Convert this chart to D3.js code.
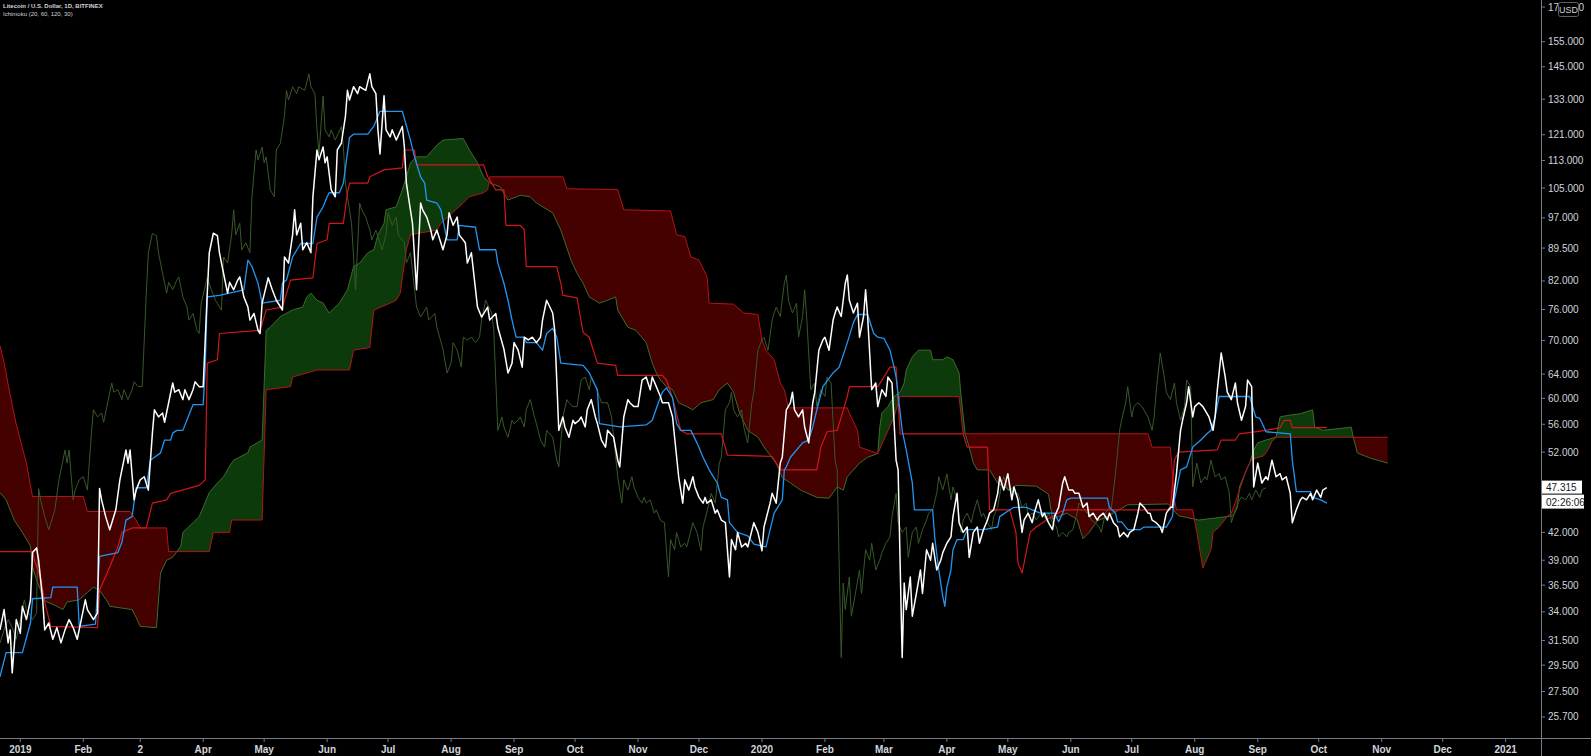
<!DOCTYPE html>
<html>
<head>
<meta charset="utf-8">
<title>Litecoin / U.S. Dollar - Ichimoku</title>
<script src="https://d3js.org/d3.v7.min.js"></script>
<style>
  body { margin: 0; background: #000; }
  svg { display: block; font-family: "Liberation Sans", Arial, sans-serif; }
</style>
</head>
<body>
<svg id="chart" width="1591" height="756"></svg>
<script>
// all series: [day offset from 2019-01-01, price]
const closeData = [
  [-10,32.4],[-8,34.2],[-6,31.3],[-5,32.4],[-4,28.9],[-2,33.3],[0,32.1],[1,34.5],[3,33.3],[5,35.1],[6,39.8],[8,40.3],[9,39.0],[11,35.1],[12,32.4],[14,33.0],[16,31.6],[18,32.6],[20,31.3],[22,32.4],[24,33.3],[26,32.6],[28,31.6],[30,33.3],[32,35.1],[33,34.2],[36,33.3],[38,33.9],[39,47.2],[40,45.8],[42,43.8],[44,42.3],[47,44.6],[49,48.3],[52,52.3],[53,50.5],[54,52.3],[56,45.8],[57,47.0],[59,48.3],[61,48.7],[63,47.0],[65,54.7],[66,58.2],[68,57.1],[70,57.7],[71,56.3],[73,59.3],[75,62.5],[76,61.0],[78,61.4],[80,59.8],[81,61.4],[83,59.8],[85,61.4],[86,62.7],[88,61.9],[90,61.9],[92,79.4],[93,88.4],[95,93.1],[97,92.5],[98,88.4],[100,83.7],[102,79.4],[103,81.7],[105,80.1],[107,82.2],[108,82.9],[110,78.6],[112,76.5],[113,73.9],[115,75.2],[117,71.9],
  [118,71.3],[119,77.3],[122,82.7],[124,80.1],[126,77.9],[129,75.9],[130,87.4],[132,86.0],[134,92.7],[135,99.1],[136,92.7],[138,95.6],[139,89.1],[141,90.8],[143,88.4],[144,102.6],[146,116.2],[147,113.2],[149,117.1],[150,112.3],[151,114.1],[153,104.5],[155,102.6],[156,116.2],[158,118.3],[160,127.1],[161,136.2],[162,132.7],[164,137.5],[166,135.0],[167,137.5],[170,136.2],[172,142.3],[173,137.5],[175,135.0],[176,122.6],[177,115.0],[179,134.2],[180,122.6],[182,120.3],[183,122.6],[185,119.3],[188,123.7],[189,117.2],[190,106.4],[191,102.6],[193,95.6],[195,80.1],[197,100.9],[198,99.1],[200,97.2],[202,93.9],[203,91.5],[205,93.9],[208,89.1],[210,92.7],[211,98.3],[213,95.1],[215,97.2],[216,92.7],[219,90.8],[220,86.0],[222,88.4],[225,76.5],[227,74.5],[230,76.5],[231,73.9],[234,75.2],[235,72.5],[238,68.4],[240,64.2],
  [242,65.9],[243,69.6],[245,68.2],[247,65.2],[248,70.6],[250,70.1],[252,70.6],[254,69.6],[256,70.6],[257,73.9],[259,77.9],[262,75.3],[263,71.9],[265,55.1],[267,57.1],[268,55.6],[270,54.1],[272,56.6],[273,56.1],[275,56.6],[276,57.1],[278,55.6],[279,58.2],[281,59.8],[283,57.1],[284,56.1],[286,53.7],[288,52.7],[289,55.1],[292,54.1],[294,50.9],[295,50.0],[297,57.1],[299,59.8],[300,59.3],[302,58.7],[304,58.7],[306,63.0],[308,63.5],[310,61.4],[311,63.5],[313,61.9],[315,60.3],[316,59.3],[319,59.3],[321,57.1],[322,54.1],[324,48.7],[326,45.4],[327,48.3],[329,47.0],[331,48.7],[332,47.4],[334,46.1],[336,45.4],[337,46.1],[338,45.4],[340,45.8],[342,44.2],[343,44.6],[345,43.4],[347,43.1],[349,37.3],[350,41.2],[352,40.1],[353,42.0],[355,40.4],[357,40.8],[358,40.4],[361,43.1],[363,42.0],
  [365,40.0],[366,42.6],[369,45.4],[370,46.6],[372,45.4],[374,50.5],[375,51.3],[377,58.2],[379,59.3],[380,61.0],[381,58.2],[383,57.1],[385,58.2],[386,55.6],[388,53.3],[390,59.3],[391,61.0],[393,68.2],[395,70.1],[396,70.6],[398,68.2],[400,73.9],[401,75.3],[402,76.5],[404,74.6],[406,81.5],[407,83.3],[408,77.9],[410,75.3],[412,77.3],[413,70.6],[415,74.6],[416,80.1],[417,74.6],[419,61.4],[421,62.5],[422,58.7],[424,61.4],[426,60.3],[427,63.5],[429,62.5],[431,50.9],[432,49.6],[434,30.1],[435,36.7],[436,34.2],[438,37.3],[439,33.6],[441,35.7],[443,38.0],[444,35.7],[446,40.1],[448,39.0],[449,40.8],[451,38.0],[453,39.0],[454,39.8],[456,40.8],[458,41.5],[459,43.8],[461,46.6],[462,43.1],[464,42.0],[466,42.6],[467,39.3],[469,42.0],[471,42.6],[472,40.8],[474,42.3],[476,43.4],[477,44.2],[479,44.6],[481,46.6],[482,48.7],[484,47.0],[486,49.1],
  [487,47.4],[488,45.8],[489,47.4],[491,45.8],[493,42.0],[494,43.4],[496,44.2],[498,43.1],[499,44.2],[501,45.8],[503,43.8],[504,44.2],[506,43.1],[508,42.3],[509,43.8],[511,44.9],[513,47.9],[514,48.7],[516,47.0],[518,47.0],[519,46.6],[521,46.6],[523,44.9],[525,45.4],[526,43.8],[528,44.2],[530,43.4],[531,43.8],[533,44.2],[535,43.4],[536,44.2],[538,43.1],[540,42.6],[541,41.5],[543,42.0],[545,41.5],[546,42.0],[548,42.3],[550,44.2],[551,45.4],[553,44.9],[555,44.2],[556,44.2],[557,43.4],[559,43.1],[561,42.6],[562,42.0],[564,44.2],[566,44.9],[567,44.9],[569,49.1],[571,55.1],[572,56.6],[574,59.3],[575,61.9],[577,57.1],[578,58.7],[580,59.3],
  [582,58.7],[585,57.1],[587,55.1],[588,57.1],[589,61.0],[591,67.7],[593,63.5],[594,61.0],[596,59.8],[598,62.5],[599,59.3],[601,56.6],[603,58.7],[604,63.0],[606,61.9],[607,47.4],[609,50.5],[611,47.9],[613,48.7],[614,48.3],[616,50.9],[618,48.7],[620,49.1],[621,48.3],[623,48.7],[625,46.6],[626,43.1],[628,44.6],[630,45.8],[631,46.1],[633,45.8],[635,46.6],[636,45.8],[638,47.0],[640,46.1],[641,47.0],[643,47.3]
];

const conversionLine = [
  [-10,28.6],[-7,30.5],[1,30.5],[5,33.0],[6,35.2],[15,35.3],[16,36.3],[28,36.3],[29,32.7],[37,32.9],[39,39.4],[48,39.8],[50,40.9],[52,43.4],[55,43.8],[57,47.3],[62,47.3],[64,50.9],[69,51.9],[71,53.7],[74,53.7],[75,54.7],[77,55.1],[80,55.1],[84,58.2],[85,59.0],[90,59.0],[91,65.2],[92,78.6],[98,78.9],[110,80.1],[112,86.7],[114,85.2],[117,81.5],[119,77.3],[128,77.9],[129,81.5],[131,82.2],[134,87.4],[138,90.6],[144,90.6],[146,97.2],[149,99.9],[151,102.6],[152,103.7],[157,103.7],[159,106.4],[162,120.1],[164,121.2],[171,121.2],[174,123.8],[176,127.1],[177,128.8],[188,128.8],[192,119.3],[194,114.1],[197,108.2],[199,106.4],[200,101.7],[205,100.9],[207,99.1],[210,91.5],[215,91.5],[216,95.1],[224,94.6],[226,89.1],[234,89.1],[235,86.0],[238,81.5],[240,77.9],[242,73.9],[244,70.6],[248,70.6],[249,69.6],[254,69.6],[257,68.2],[259,71.3],[262,72.3],[264,70.6],[266,65.9],[277,65.5],[280,64.2],[284,61.4],[285,56.1],[295,55.6],[308,55.9],[311,56.6],[314,59.3],[316,61.0],[318,61.7],[321,60.1],[323,56.1],[325,55.1],[330,55.1],[333,53.3],[336,51.3],[339,49.6],[343,47.9],[345,46.1],[348,45.8],[349,43.1],[353,42.0],[358,41.6],[361,40.7],[367,40.4],[369,42.3],[371,44.2],[375,45.8],[376,49.6],[377,50.0],[379,51.3],[385,53.3],[388,53.7],[390,55.6],[392,58.2],[395,61.9],[400,64.2],[403,65.2],[407,69.6],[410,73.4],[412,75.0],[417,75.0],[420,71.3],[422,70.6],[425,70.4],[428,68.2],[430,65.2],[431,63.5],[434,55.1],[436,52.3],[439,47.9],[440,44.6],[449,44.6],[450,41.5],[452,38.0],[454,35.4],[455,34.5],[456,36.3],[458,38.0],[459,40.1],[461,41.2],[464,41.2],[466,42.3],[474,42.3],[481,42.6],[482,43.8],[487,44.6],[489,44.9],[495,44.9],[498,44.6],[502,44.2],[509,44.2],[511,43.2],[513,44.2],[515,45.8],[517,46.0],[535,46.0],[536,44.9],[539,44.2],[540,43.2],[542,43.2],[545,42.3],[551,42.3],[553,42.6],[564,42.6],[567,43.8],[568,45.8],[571,49.6],[574,50.0],[577,52.7],[581,53.7],[584,54.6],[586,55.1],[588,57.1],[590,60.3],[605,60.3],[608,57.1],[610,56.9],[612,55.6],[613,54.9],[625,54.6],[626,50.9],[628,46.8],[635,46.8],[636,46.1],[640,45.8],[643,45.4]
];

const baseLine = [
  [-10,39.9],[6,39.9],[7,39.0],[10,37.2],[12,34.9],[15,32.7],[38,32.6],[39,36.0],[44,38.3],[48,40.4],[50,42.0],[55,42.5],[62,42.5],[65,45.4],[72,45.8],[74,46.6],[88,47.6],[91,48.3],[92,65.9],[97,66.5],[98,71.3],[118,71.9],[121,75.9],[129,76.5],[133,82.2],[144,82.7],[146,90.6],[151,91.5],[152,95.6],[159,95.6],[161,103.7],[162,106.4],[171,106.4],[172,108.2],[179,110.2],[188,110.8],[189,116.2],[194,116.2],[195,111.7],[228,111.7],[230,108.2],[234,104.5],[238,104.5],[239,95.1],[246,95.1],[248,94.0],[249,85.2],[264,85.2],[266,81.5],[267,78.9],[274,78.4],[275,75.9],[277,71.5],[280,70.6],[284,65.9],[293,65.5],[294,63.8],[316,63.8],[318,63.0],[321,60.1],[325,55.1],[328,54.6],[345,54.6],[348,51.6],[370,51.4],[374,49.6],[392,49.6],[394,52.7],[397,54.9],[402,55.1],[405,58.1],[407,60.3],[408,61.9],[422,61.9],[425,63.5],[428,65.2],[431,65.2],[433,54.6],[464,54.6],[466,52.7],[476,52.7],[477,44.6],[487,44.6],[490,42.0],[491,38.7],[493,37.7],[494,38.7],[497,42.0],[500,42.6],[505,43.4],[512,44.4],[515,44.6],[566,44.6],[568,50.9],[570,52.0],[589,52.3],[591,53.7],[598,53.7],[600,54.6],[613,55.1],[620,55.5],[622,56.6],[625,56.6],[626,55.5],[643,55.5]
];

const leadingSpanA = [
  [-10,46.7],[-7,45.8],[-3,43.4],[1,42.0],[5,40.5],[6,38.3],[8,37.0],[10,36.0],[11,35.1],[18,34.5],[21,34.2],[23,34.9],[29,35.1],[33,35.8],[36,36.3],[39,36.0],[43,34.9],[44,34.5],[55,34.2],[57,33.5],[59,32.7],[67,32.6],[69,37.7],[72,39.0],[75,39.3],[79,40.5],[80,42.0],[85,43.1],[88,43.8],[90,44.9],[93,46.7],[97,47.9],[100,48.7],[103,50.1],[105,50.9],[112,51.9],[113,52.7],[119,53.7],[121,71.9],[123,72.5],[128,74.6],[134,75.9],[139,76.5],[141,78.6],[143,79.4],[146,77.9],[149,77.3],[152,75.3],[157,77.3],[161,80.1],[164,85.2],[167,86.0],[171,88.4],[174,89.1],[176,92.7],[179,95.6],[180,99.1],[185,99.9],[188,104.5],[190,108.2],[192,112.3],[195,114.1],[200,114.1],[205,117.7],[208,119.3],[218,119.8],[221,116.2],[225,112.3],[228,108.2],[231,106.4],[236,105.4],[240,101.7],[246,103.0],[251,102.6],[254,100.9],[262,98.3],[266,93.9],[271,86.7],[274,83.7],[277,81.5],[280,78.6],[285,77.3],[289,77.9],[293,78.6],[294,75.9],[299,72.5],[303,71.9],[308,69.6],[311,65.9],[313,64.2],[315,63.0],[318,61.9],[321,61.4],[324,59.3],[328,58.7],[331,58.2],[335,59.3],[341,59.8],[344,61.4],[348,62.5],[351,61.0],[354,57.7],[358,55.1],[363,54.1],[367,52.3],[372,50.5],[375,48.6],[379,47.9],[384,47.0],[392,46.1],[398,46.0],[402,47.4],[405,47.0],[407,48.7],[413,50.5],[417,51.3],[422,51.8],[423,55.6],[424,57.7],[427,58.7],[430,60.3],[433,61.0],[435,62.5],[436,64.7],[439,67.0],[442,68.2],[448,68.2],[449,66.5],[454,66.5],[456,67.0],[459,66.5],[462,64.2],[463,60.3],[465,54.6],[467,52.7],[469,50.5],[471,49.6],[477,49.6],[481,47.9],[487,47.0],[490,47.6],[500,47.5],[506,46.5],[508,43.5],[515,44.2],[520,43.5],[523,41.3],[526,42.0],[530,43.3],[535,43.8],[545,45.2],[565,45.3],[570,43.9],[580,43.4],[597,43.9],[599,44.9],[600,47.4],[603,49.3],[605,50.5],[607,52.3],[609,53.3],[613,53.7],[618,54.1],[620,57.1],[623,57.3],[630,57.6],[636,58.2],[637,55.6],[641,55.1],[653,55.5],[655,55.6],[656,54.1],[658,51.9],[664,51.2],[673,50.5]
];

const leadingSpanB = [
  [-10,69.0],[-8,66.0],[-5,60.5],[-2,56.0],[1,52.6],[3,50.5],[6,46.2],[31,46.2],[33,44.4],[54,44.4],[57,43.4],[59,42.5],[72,42.5],[73,39.9],[93,39.9],[95,42.0],[103,42.0],[104,43.4],[119,43.4],[121,61.4],[133,61.9],[134,63.5],[146,64.7],[162,64.7],[164,68.2],[172,68.7],[174,75.9],[182,77.3],[185,77.9],[187,79.4],[188,82.7],[190,89.1],[192,92.7],[205,93.9],[207,95.6],[218,100.9],[221,102.6],[228,103.7],[230,104.5],[231,108.2],[267,108.2],[269,104.8],[294,104.6],[297,99.1],[320,98.8],[323,92.7],[327,92.3],[330,87.4],[334,86.7],[338,82.9],[339,77.3],[351,77.1],[356,75.3],[363,75.0],[365,70.1],[367,68.2],[371,66.5],[374,62.5],[376,61.4],[378,58.5],[407,58.5],[408,57.7],[412,55.1],[413,52.7],[422,51.8],[425,53.7],[430,57.1],[433,60.3],[462,60.3],[464,54.6],[555,54.6],[557,52.7],[566,52.7],[568,45.8],[569,44.6],[577,44.6],[579,42.0],[582,38.2],[586,40.1],[587,42.0],[590,42.6],[594,43.8],[596,44.2],[598,45.5],[600,47.0],[602,48.5],[604,50.0],[606,51.0],[612,51.5],[614,52.3],[616,53.5],[618,54.1],[673,54.1]
];

const laggingShift = 30; // lagging span = close drawn 30 days back

const monthTicks = [
  ["2019-01-01","2019"],["2019-02-01","Feb"],["2019-03-01","2"],["2019-04-01","Apr"],["2019-05-01","May"],["2019-06-01","Jun"],
  ["2019-07-01","Jul"],["2019-08-01","Aug"],["2019-09-01","Sep"],["2019-10-01","Oct"],["2019-11-01","Nov"],["2019-12-01","Dec"],
  ["2020-01-01","2020"],["2020-02-01","Feb"],["2020-03-01","Mar"],["2020-04-01","Apr"],["2020-05-01","May"],["2020-06-01","Jun"],
  ["2020-07-01","Jul"],["2020-08-01","Aug"],["2020-09-01","Sep"],["2020-10-01","Oct"],["2020-11-01","Nov"],["2020-12-01","Dec"],
  ["2021-01-01","2021"]
];
const priceTicks = [170,155,145,133,121,113,105,97,89.5,82,76,70,64,60,56,52,42,39,36.5,34,31.5,29.5,27.5,25.7];
const lastPrice = 47.315;
const countdown = "02:26:06";

const svg = d3.select("#chart");
const width = +svg.attr("width");
const height = +svg.attr("height");
const plotW = 1541, plotH = 738;

const day0 = Date.UTC(2019, 0, 1);
const toDate = (d) => new Date(day0 + d * 864e5);

const x = d3.scaleUtc().domain([toDate(-10), toDate(748.4)]).range([0, plotW]);
const y = d3.scaleLog().domain([24.3, 173.2]).range([plotH, 0]);

svg.append("rect").attr("width", width).attr("height", height).attr("fill", "#000");

const defs = svg.append("defs");
defs.append("clipPath").attr("id", "plot")
  .append("rect").attr("width", plotW).attr("height", plotH);

const px = (d) => x(toDate(d[0]));
const py = (d) => y(d[1]);

// cloud: green where span A is above span B, red where B is above A
const aboveArea = d3.area().x(px).y0(0).y1(py);
const belowArea = d3.area().x(px).y0(plotH).y1(py);
defs.append("clipPath").attr("id", "aboveB").append("path").attr("d", aboveArea(leadingSpanB));
defs.append("clipPath").attr("id", "aboveA").append("path").attr("d", aboveArea(leadingSpanA));

const plot = svg.append("g").attr("clip-path", "url(#plot)");

plot.append("g").attr("clip-path", "url(#aboveB)")
  .append("path")
  .attr("d", belowArea(leadingSpanA))
  .attr("fill", "#0d3a0b");

plot.append("g").attr("clip-path", "url(#aboveA)")
  .append("path")
  .attr("d", belowArea(leadingSpanB))
  .attr("fill", "#450000");

const line = d3.line().x(px).y(py);

const lagging = closeData.map((d) => [d[0] - laggingShift, d[1]]);

const series = [
  { data: leadingSpanA, color: "#3f6b2c", w: 1 },
  { data: leadingSpanB, color: "#b3141a", w: 1 },
  { data: lagging, color: "#37592a", w: 1 },
  { data: baseLine, color: "#d2161c", w: 1.2 },
  { data: conversionLine, color: "#2196f3", w: 1.3 },
  { data: closeData, color: "#ffffff", w: 1.5 }
];

plot.selectAll("path.series")
  .data(series)
  .join("path")
  .attr("class", "series")
  .attr("fill", "none")
  .attr("stroke", (d) => d.color)
  .attr("stroke-width", (d) => d.w)
  .attr("stroke-linejoin", "round")
  .attr("d", (d) => line(d.data));

// axes
const axisColor = "#787b86";
const textColor = "#d1d4dc";

svg.append("line")
  .attr("x1", 0).attr("x2", width)
  .attr("y1", plotH + 0.5).attr("y2", plotH + 0.5)
  .attr("stroke", axisColor);
svg.append("line")
  .attr("x1", plotW + 0.5).attr("x2", plotW + 0.5)
  .attr("y1", 0).attr("y2", height)
  .attr("stroke", axisColor);

const xTicks = svg.append("g").selectAll("g")
  .data(monthTicks)
  .join("g")
  .attr("transform", (d) => `translate(${x(new Date(d[0] + "T00:00:00Z"))},${plotH})`);
xTicks.append("line").attr("y1", 0).attr("y2", 4).attr("stroke", axisColor);
xTicks.append("text")
  .attr("y", 15)
  .attr("text-anchor", "middle")
  .attr("fill", textColor)
  .attr("font-size", 10)
  .attr("font-weight", "bold")
  .text((d) => d[1]);

const yTicks = svg.append("g").selectAll("g")
  .data(priceTicks)
  .join("g")
  .attr("transform", (d) => `translate(${plotW},${y(d)})`);
yTicks.append("line").attr("x1", 0).attr("x2", 4).attr("stroke", axisColor);
yTicks.append("text")
  .attr("x", 7)
  .attr("dy", "0.35em")
  .attr("fill", textColor)
  .attr("font-size", 10)
  .text((d) => d3.format(".3f")(d));

// currency badge (sits over the top price label, as in the terminal)
svg.append("rect")
  .attr("x", 1558.5).attr("y", 2.5).attr("width", 20).attr("height", 14)
  .attr("fill", "#000").attr("stroke", "#5d606b").attr("rx", 2);
svg.append("text")
  .attr("x", 1568.5).attr("y", 13)
  .attr("text-anchor", "middle")
  .attr("fill", textColor).attr("font-size", 9)
  .text("USD");

// last price + countdown labels
const yLast = y(lastPrice);
svg.append("rect")
  .attr("x", plotW + 1).attr("y", yLast - 7).attr("width", 40).attr("height", 13)
  .attr("fill", "#ffffff");
svg.append("text")
  .attr("x", plotW + 5).attr("y", yLast + 3.5)
  .attr("fill", "#131722").attr("font-size", 10)
  .text(d3.format(".3f")(lastPrice));
svg.append("rect")
  .attr("x", plotW + 1).attr("y", yLast + 7).attr("width", 42).attr("height", 14)
  .attr("fill", "#ffffff");
svg.append("text")
  .attr("x", plotW + 5).attr("y", yLast + 18)
  .attr("fill", "#131722").attr("font-size", 10)
  .text(countdown);

// legend
svg.append("text")
  .attr("x", 3).attr("y", 8)
  .attr("fill", textColor).attr("font-size", 6).attr("font-weight", "bold")
  .text("Litecoin / U.S. Dollar, 1D, BITFINEX");
svg.append("text")
  .attr("x", 3).attr("y", 16)
  .attr("fill", textColor).attr("font-size", 6)
  .text("Ichimoku (20, 60, 120, 30)");
</script>
</body>
</html>
